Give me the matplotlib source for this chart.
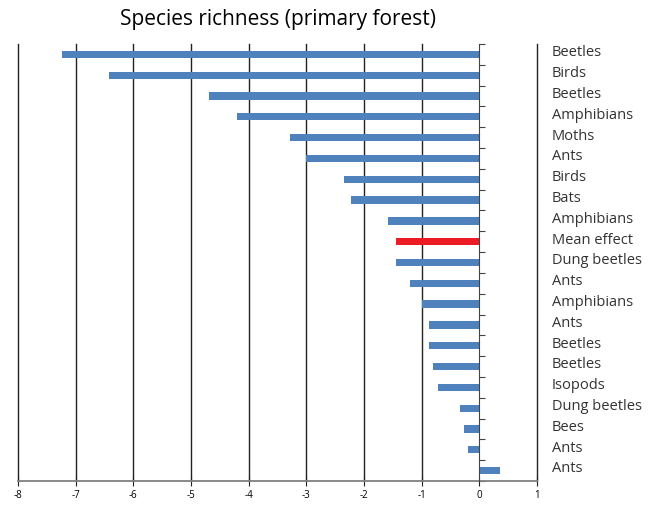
import numpy as np
import matplotlib
matplotlib.use('Agg')
import matplotlib.pyplot as plt

# effect sizes, top to bottom
taxa = ['Beetles', 'Birds', 'Beetles', 'Amphibians', 'Moths', 'Ants', 'Birds',
        'Bats', 'Amphibians', 'Mean effect', 'Dung beetles', 'Ants', 'Amphibians',
        'Ants', 'Beetles', 'Beetles', 'Isopods', 'Dung beetles', 'Bees', 'Ants', 'Ants']
effect = [-7.24, -6.42, -4.68, -4.21, -3.29, -3.0, -2.34,
          -2.23, -1.58, -1.44, -1.44, -1.21, -0.99,
          -0.88, -0.87, -0.81, -0.71, -0.33, -0.26, -0.19, 0.35]

plt.rcParams['font.family'] = ['Open Sans', 'DejaVu Sans']
plt.rcParams['axes.unicode_minus'] = False

fig = plt.figure(figsize=(6.59, 5.05), dpi=100)
ax = fig.add_axes([18/659, 1 - 481/505, (537 - 18)/659, (481 - 44)/505])

n = len(taxa)
ypos = np.arange(n)
colors = ['#ED1C24' if t == 'Mean effect' else '#4F81BD' for t in taxa]
ax.barh(ypos, effect, height=0.35, color=colors, zorder=3)

ax.set_xlim(-8, 1)
ax.set_ylim(n - 0.5, -0.5)

for x in range(-8, 2):
    if x != 0:
        ax.axvline(x, color='#222222', lw=1.0, zorder=1, clip_on=False)

for side in ['top', 'right']:
    ax.spines[side].set_visible(False)
ax.spines['left'].set_position(('data', 0))
ax.spines['left'].set_color('#444444')
ax.spines['left'].set_zorder(4)
ax.spines['bottom'].set_color('#808080')
ax.spines['bottom'].set_linewidth(1.3)

ax.set_yticks(np.arange(n + 1) - 0.5)
ax.set_yticklabels([])
ax.tick_params(axis='y', direction='in', length=4, color='#444444')
ax.set_xticks(range(-8, 2))
ax.tick_params(axis='x', direction='inout', length=7, color='#222222',
               labelsize=7, pad=3)

for y, t in zip(ypos, taxa):
    ax.text(552/659, 1 - (53 + y * 20.8)/505, t, transform=fig.transFigure,
            ha='left', va='center', fontsize=10.5, color='#333333')

fig.text(278/659, 1 - 20/505, 'Species richness (primary forest)',
         ha='center', va='center', fontsize=15)

fig.savefig('out.png', dpi=100)
